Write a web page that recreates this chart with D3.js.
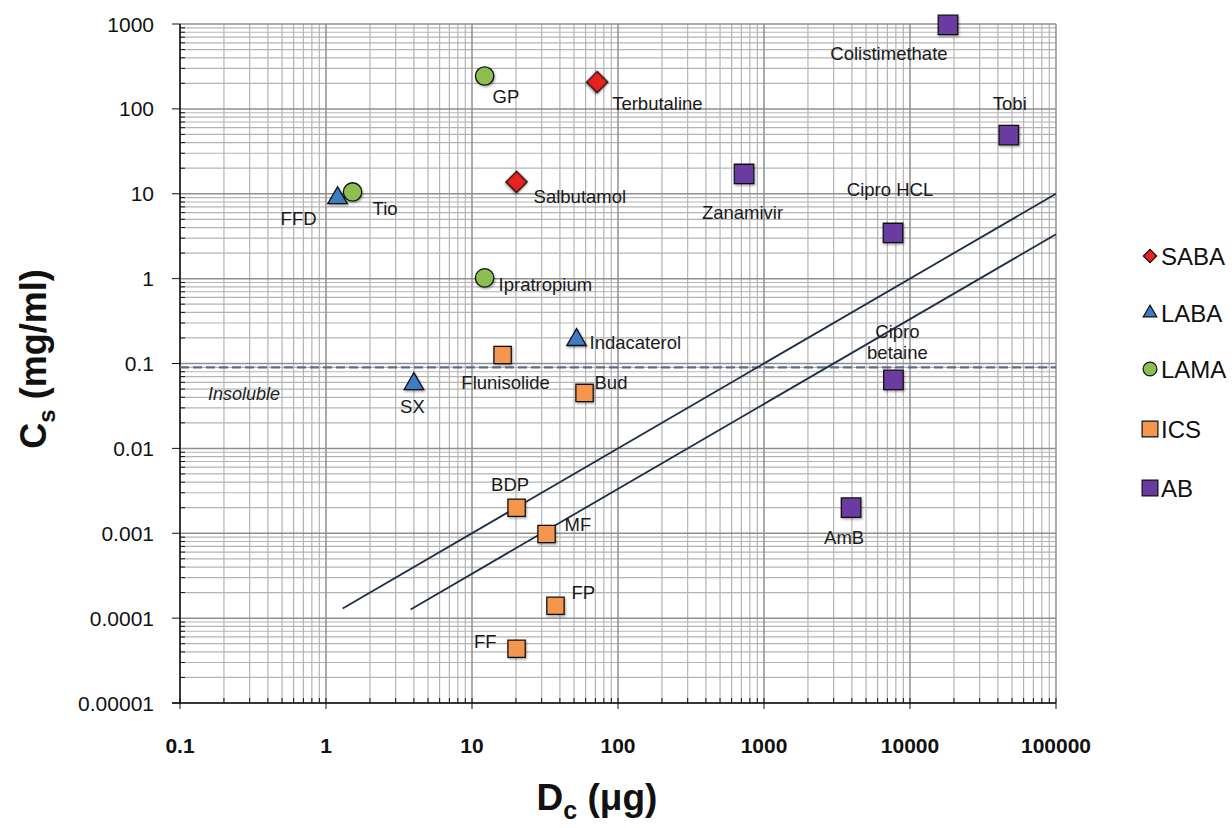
<!DOCTYPE html>
<html>
<head>
<meta charset="utf-8">
<script src="https://cdn.jsdelivr.net/npm/d3@7"></script>
<style>
  body { margin: 0; background: #fff; }
  svg text { font-family: Arial, "Liberation Sans", sans-serif; }
</style>
</head>
<body>
<div id="chart"></div>
<script>
// data
var names  = ['Terbutaline','Salbutamol','FFD','Indacaterol','SX','GP','Tio','Ipratropium',
              'Flunisolide','Bud','BDP','MF','FP','FF',
              'Colistimethate','Tobi','Zanamivir','Cipro HCL','Cipro betaine','AmB'];
var groups = ['SABA','SABA','LABA','LABA','LABA','LAMA','LAMA','LAMA',
              'ICS','ICS','ICS','ICS','ICS','ICS',
              'AB','AB','AB','AB','AB','AB'];
var dose   = [72, 20.2, 1.2, 52, 4.0, 12.2, 1.52, 12.2,
              16.2, 59, 20.2, 32.4, 37.3, 20.2,
              18200, 47500, 730, 7650, 7700, 3950];
var solub  = [207, 13.8, 8.9, 0.19, 0.0575, 244, 10.5, 1.02,
              0.126, 0.045, 0.002, 0.00098, 0.00014, 0.0000436,
              975, 49, 17.1, 3.45, 0.064, 0.002];

var seriesNames = ['SABA','LABA','LAMA','ICS','AB'];
var xTicks = [0.1, 1, 10, 100, 1000, 10000, 100000];
var yTicks = [0.00001, 0.0001, 0.001, 0.01, 0.1, 1, 10, 100, 1000];
// the two dissolution lines Cs = Dc / k
var lineK     = [10000, 30000];
var lineStart = [1.3, 3.8];
var insolubleLimit = 0.09;

// label placement (dx, dy from marker centre, anchor)
var labelPos = {
  'Terbutaline': [15, 27.5, 'start'], 'Salbutamol': [17, 21.5, 'start'], 'FFD': [-21, 27, 'end'],
  'Indacaterol': [13, 9.5, 'start'], 'SX': [-1.5, 29.5, 'middle'], 'GP': [8, 27.5, 'start'],
  'Tio': [20, 23.5, 'start'], 'Ipratropium': [14, 13.5, 'start'], 'Flunisolide': [3, 34.5, 'middle'],
  'Bud': [10, -3.5, 'start'], 'BDP': [-6.5, -16.5, 'middle'], 'MF': [18, -2.5, 'start'],
  'FP': [16, -6.5, 'start'], 'FF': [-20, -0.5, 'end'], 'Colistimethate': [-59, 35, 'middle'],
  'Tobi': [1, -25, 'middle'], 'Zanamivir': [-1.5, 45.5, 'middle'], 'Cipro HCL': [-3, -36.5, 'middle'],
  'Cipro betaine': [4, -41.5, 'middle'], 'AmB': [-7, 36.5, 'middle']
};

var colors = {SABA: '#e8231f', LABA: '#3f7bc4', LAMA: '#8cbf50', ICS: '#f4964e', AB: '#6b3aa0'};
var shapes = {SABA: d3.symbolSquare, LABA: d3.symbolTriangle, LAMA: d3.symbolCircle,
              ICS: d3.symbolSquare, AB: d3.symbolSquare};
var sizes  = {SABA: 225, LABA: 165, LAMA: 265, ICS: 300, AB: 380};
var legSizes = {SABA: 90, LABA: 80, LAMA: 150, ICS: 250, AB: 250};

var W = 1232, H = 828;
var m = {left: 180, right: 1056, top: 24, bottom: 703};

var svg = d3.select('#chart').append('svg')
  .attr('width', W).attr('height', H);

var defs = svg.append('defs');
var f = defs.append('filter').attr('id', 'sh').attr('x', '-30%').attr('y', '-30%')
  .attr('width', '160%').attr('height', '160%');
f.append('feDropShadow').attr('dx', 1).attr('dy', 1.5).attr('stdDeviation', 1)
  .attr('flood-color', '#000').attr('flood-opacity', 0.35);

var x = d3.scaleLog().domain([0.1, 100000]).range([m.left, m.right]);
var y = d3.scaleLog().domain([0.00001, 1000]).range([m.bottom, m.top]);

// minor values 2..9 per decade
function minorVals(lo, hi) {
  var out = [];
  for (var e = Math.log10(lo); e < Math.log10(hi); e++) {
    for (var k = 2; k <= 9; k++) out.push(k * Math.pow(10, e));
  }
  return out;
}
var xMinor = minorVals(0.1, 100000);
var yMinor = minorVals(0.00001, 1000);

var grid = svg.append('g');
grid.selectAll('.xm').data(xMinor).enter().append('line')
  .attr('x1', function (d) { return x(d); }).attr('x2', function (d) { return x(d); })
  .attr('y1', m.top).attr('y2', m.bottom)
  .attr('stroke', '#b4b4b4').attr('stroke-width', 1.2);
grid.selectAll('.ym').data(yMinor).enter().append('line')
  .attr('y1', function (d) { return y(d); }).attr('y2', function (d) { return y(d); })
  .attr('x1', m.left).attr('x2', m.right)
  .attr('stroke', '#b4b4b4').attr('stroke-width', 1.2);
grid.selectAll('.xM').data(xTicks).enter().append('line')
  .attr('x1', function (d) { return x(d); }).attr('x2', function (d) { return x(d); })
  .attr('y1', m.top).attr('y2', m.bottom)
  .attr('stroke', '#8f8f8f').attr('stroke-width', 1.5);
grid.selectAll('.yM').data(yTicks).enter().append('line')
  .attr('y1', function (d) { return y(d); }).attr('y2', function (d) { return y(d); })
  .attr('x1', m.left).attr('x2', m.right)
  .attr('stroke', '#8f8f8f').attr('stroke-width', 1.5);

// axes
var ax = svg.append('g').attr('stroke', '#111');
ax.append('line').attr('x1', m.left).attr('x2', m.left).attr('y1', m.top).attr('y2', m.bottom).attr('stroke-width', 1.5);
ax.append('line').attr('x1', m.left - 8).attr('x2', m.right).attr('y1', m.bottom).attr('y2', m.bottom).attr('stroke-width', 1.5);
ax.selectAll('.yt').data(yTicks).enter().append('line')
  .attr('x1', m.left - 8).attr('x2', m.left)
  .attr('y1', function (d) { return y(d); }).attr('y2', function (d) { return y(d); });
ax.selectAll('.ymt').data(yMinor).enter().append('line')
  .attr('x1', m.left).attr('x2', m.left + 5)
  .attr('y1', function (d) { return y(d); }).attr('y2', function (d) { return y(d); });
ax.selectAll('.xt').data(xTicks).enter().append('line')
  .attr('x1', function (d) { return x(d); }).attr('x2', function (d) { return x(d); })
  .attr('y1', m.bottom - 5).attr('y2', m.bottom + 6);
ax.selectAll('.xmt').data(xMinor).enter().append('line')
  .attr('x1', function (d) { return x(d); }).attr('x2', function (d) { return x(d); })
  .attr('y1', m.bottom - 5).attr('y2', m.bottom);

svg.selectAll('.ylab').data(yTicks).enter().append('text')
  .attr('x', 154).attr('y', function (d) { return y(d) + 7.5; })
  .attr('text-anchor', 'end').attr('font-size', 21).attr('fill', '#111')
  .text(function (d) { return d >= 1 ? d3.format('d')(d) : String(d.toFixed(Math.round(-Math.log10(d)))); });

svg.selectAll('.xlab').data(xTicks).enter().append('text')
  .attr('x', function (d) { return x(d); }).attr('y', 753)
  .attr('text-anchor', 'middle').attr('font-size', 21).attr('font-weight', 'bold').attr('fill', '#111')
  .text(function (d) { return d < 1 ? '0.1' : d3.format('d')(d); });

// axis titles
var yt = svg.append('text').attr('transform', 'translate(46,359) rotate(-90)')
  .attr('text-anchor', 'middle').attr('font-size', 36).attr('font-weight', 'bold').attr('fill', '#111');
yt.append('tspan').text('C');
yt.append('tspan').attr('font-size', 24).attr('dy', 9).text('s');
yt.append('tspan').attr('dy', -9).text(' (mg/ml)');

var xt = svg.append('text').attr('x', 597).attr('y', 810)
  .attr('text-anchor', 'middle').attr('font-size', 37).attr('font-weight', 'bold').attr('fill', '#111');
xt.append('tspan').text('D');
xt.append('tspan').attr('font-size', 25).attr('dy', 9).text('c');
xt.append('tspan').attr('dy', -9).text(' (\u03bcg)');

// insoluble limit
svg.append('line').attr('x1', m.left).attr('x2', m.right)
  .attr('y1', y(insolubleLimit)).attr('y2', y(insolubleLimit))
  .attr('stroke', '#5d6f86').attr('stroke-width', 2.2).attr('stroke-dasharray', '9,4');
svg.append('text').attr('x', 208).attr('y', 399.5).attr('font-size', 18)
  .attr('font-style', 'italic').attr('fill', '#222').text('Insoluble');

// dissolution lines
var lineData = lineK.map(function (k, i) {
  return [[lineStart[i], lineStart[i] / k], [100000, 100000 / k]];
});
svg.selectAll('.dl').data(lineData).enter().append('path')
  .attr('d', d3.line().x(function (d) { return x(d[0]); }).y(function (d) { return y(d[1]); }))
  .attr('stroke', '#1e2f46').attr('stroke-width', 1.8).attr('fill', 'none');

// points
var pts = names.map(function (n, i) {
  return {name: n, g: groups[i], dc: dose[i], cs: solub[i]};
});

svg.append('g').selectAll('path').data(pts).enter().append('path')
  .attr('transform', function (d) {
    var r = d.g === 'SABA' ? ' rotate(45)' : '';
    return 'translate(' + x(d.dc) + ',' + y(d.cs) + ')' + r;
  })
  .attr('d', function (d) { return d3.symbol().type(shapes[d.g]).size(sizes[d.g])(); })
  .attr('fill', function (d) { return colors[d.g]; })
  .attr('stroke', '#111').attr('stroke-width', 1.3)
  .attr('filter', 'url(#sh)');

svg.append('g').selectAll('text').data(pts).enter().append('text')
  .attr('x', function (d) { return x(d.dc) + labelPos[d.name][0]; })
  .attr('y', function (d) { return y(d.cs) + labelPos[d.name][1]; })
  .attr('text-anchor', function (d) { return labelPos[d.name][2]; })
  .attr('font-size', 18.5).attr('fill', '#1a1a1a')
  .each(function (d) {
    var t = d3.select(this);
    if (d.name === 'Cipro betaine') {
      t.append('tspan').attr('x', x(d.dc) + labelPos[d.name][0]).text('Cipro');
      t.append('tspan').attr('x', x(d.dc) + labelPos[d.name][0]).attr('dy', 21).text('betaine');
    } else {
      t.text(d.name);
    }
  });

// legend
var leg = svg.append('g').selectAll('g').data(seriesNames).enter().append('g')
  .attr('transform', function (d, i) { return 'translate(1150,' + [256, 313, 369, 429, 488][i] + ')'; });
leg.append('path')
  .attr('transform', function (d) { return d === 'SABA' ? 'rotate(45)' : null; })
  .attr('d', function (d) { return d3.symbol().type(shapes[d]).size(legSizes[d])(); })
  .attr('fill', function (d) { return colors[d]; })
  .attr('stroke', '#111').attr('stroke-width', 1.2);
leg.append('text').attr('x', 11).attr('y', 8.5).attr('font-size', 24).attr('fill', '#111')
  .text(function (d) { return d; });
</script>
</body>
</html>
